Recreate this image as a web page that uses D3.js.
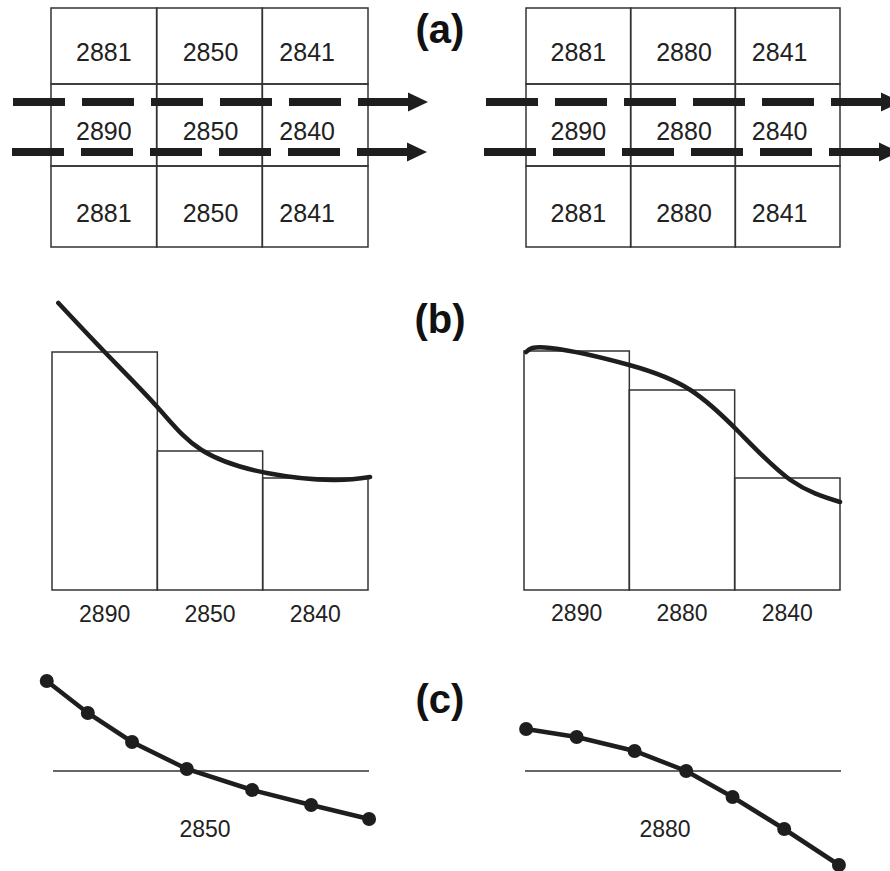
<!DOCTYPE html>
<html>
<head>
<meta charset="utf-8">
<script src="https://cdn.jsdelivr.net/npm/d3@7"></script>
<style>
  body { margin: 0; background: #fff; }
  text { font-family: "Liberation Sans", Arial, sans-serif; fill: #222; }
</style>
</head>
<body>
<div id="chart"></div>
<script>
// (a) cell values, rows top to bottom
var gridLeft = [[2881, 2850, 2841], [2890, 2850, 2840], [2881, 2850, 2841]];
var gridRight = [[2881, 2880, 2841], [2890, 2880, 2840], [2881, 2880, 2841]];

// (b) bars + fitted curve (x in bar units 0..3, y in bar height units)
var barCatsLeft = ["2890", "2850", "2840"];
var barCatsRight = ["2890", "2880", "2840"];
var barHeightsLeft = [238, 139, 112];
var barHeightsRight = [239, 200, 112];
var curveLeft = [[0.06, 287], [0.5, 238], [1.0, 183], [1.42, 140],
                 [2.04, 117], [2.67, 110], [3.02, 113]];
var curveRight = [[0.02, 238], [0.25, 242], [1.0, 225], [1.58, 200],
                  [2.04, 158], [2.53, 110], [3.0, 88]];

// (c) profile points around the centre line
var profileLeft = [[-0.05, 90], [0.34, 58], [0.76, 29], [1.28, 2], [1.90, -19], [2.46, -34], [3.01, -48]];
var profileRight = [[0.02, 42], [0.50, 34], [1.05, 20], [1.54, 0], [1.98, -26], [2.47, -58], [2.99, -94]];
var profileLabels = ["2850", "2880"];

var panelLabels = ["(a)", "(b)", "(c)"];

var W = 890, H = 871;
var svg = d3.select("#chart").append("svg")
    .attr("width", W)
    .attr("height", H);

var ink = "#1e1e1e";
var thin = "#333";

// panel labels
var labelY = [43, 333, 713];
svg.selectAll("text.panel").data(panelLabels)
    .enter().append("text")
    .attr("class", "panel")
    .attr("x", 440)
    .attr("y", function (d, i) { return labelY[i]; })
    .attr("text-anchor", "middle")
    .attr("font-size", 40)
    .attr("font-weight", "bold")
    .style("fill", "#111")
    .text(function (d) { return d; });

// ---------- (a) grids ----------
var rowEdges = [8, 84, 166, 247];
var colNudge = [0, 1, -8];

function drawGrid(x0, x1, cells, arrowStarts) {
    var g = svg.append("g");
    var x = d3.scaleBand().domain([0, 1, 2]).range([x0, x1]);

    cells.forEach(function (row, r) {
        row.forEach(function (v, c) {
            g.append("rect")
                .attr("x", x(c))
                .attr("y", rowEdges[r])
                .attr("width", x.bandwidth())
                .attr("height", rowEdges[r + 1] - rowEdges[r])
                .attr("fill", "none")
                .attr("stroke", thin)
                .attr("stroke-width", 1.5);
            g.append("text")
                .attr("x", x(c) + x.bandwidth() / 2 + colNudge[c])
                .attr("y", (rowEdges[r] + rowEdges[r + 1]) / 2 + 15)
                .attr("text-anchor", "middle")
                .attr("font-size", 25)
                .text(v);
        });
    });

    // dashed flow arrows
    var arrowY = [102, 152];
    arrowY.forEach(function (y, i) {
        var sx = arrowStarts[i];
        var ex = sx + 397;
        g.append("line")
            .attr("x1", sx).attr("x2", ex)
            .attr("y1", y).attr("y2", y)
            .attr("stroke", ink)
            .attr("stroke-width", 8)
            .attr("stroke-dasharray", "52,17");
        g.append("path")
            .attr("d", "M" + (ex - 2) + "," + (y - 9.5) + "L" + (ex + 18) + "," + y + "L" + (ex - 2) + "," + (y + 9.5) + "Z")
            .attr("fill", ink);
    });
}

drawGrid(51, 368, gridLeft, [13, 12]);
drawGrid(526, 840, gridRight, [486, 484]);

// ---------- (b) bars ----------
var yb = d3.scaleLinear().domain([0, 250]).range([590, 340]);

function drawBars(x0, x1, cats, heights, curve, labelBase) {
    var g = svg.append("g");
    var xb = d3.scaleBand().domain(cats).range([x0, x1]);
    var xc = d3.scaleLinear().domain([0, 3]).range([x0, x1]);

    g.selectAll("rect").data(cats)
        .enter().append("rect")
        .attr("x", function (d) { return xb(d); })
        .attr("y", function (d, i) { return yb(heights[i]); })
        .attr("width", xb.bandwidth())
        .attr("height", function (d, i) { return yb(0) - yb(heights[i]); })
        .attr("fill", "none")
        .attr("stroke", thin)
        .attr("stroke-width", 1.5);

    g.selectAll("text").data(cats)
        .enter().append("text")
        .attr("x", function (d) { return xb(d) + xb.bandwidth() / 2; })
        .attr("y", labelBase)
        .attr("text-anchor", "middle")
        .attr("font-size", 23)
        .text(function (d) { return d; });

    var line = d3.line()
        .x(function (d) { return xc(d[0]); })
        .y(function (d) { return yb(d[1]); })
        .curve(d3.curveNatural);

    g.append("path")
        .datum(curve)
        .attr("d", line)
        .attr("fill", "none")
        .attr("stroke", ink)
        .attr("stroke-width", 4.5)
        .attr("stroke-linecap", "round");
}

drawBars(52, 368, barCatsLeft, barHeightsLeft, curveLeft, 622);
drawBars(524, 840, barCatsRight, barHeightsRight, curveRight, 621);

// ---------- (c) profiles ----------
var yc = d3.scaleLinear().domain([-100, 100]).range([871, 671]);

function drawProfile(x0, x1, pts, label, labelShift) {
    var g = svg.append("g");
    var xc = d3.scaleLinear().domain([0, 3]).range([x0, x1]);

    g.append("line")
        .attr("x1", xc(0) + 1).attr("x2", xc(3) + 1)
        .attr("y1", yc(0)).attr("y2", yc(0))
        .attr("stroke", thin)
        .attr("stroke-width", 1.5);

    var line = d3.line()
        .x(function (d) { return xc(d[0]); })
        .y(function (d) { return yc(d[1]); });

    g.append("path")
        .datum(pts)
        .attr("d", line)
        .attr("fill", "none")
        .attr("stroke", ink)
        .attr("stroke-width", 4.5);

    g.selectAll("circle").data(pts)
        .enter().append("circle")
        .attr("cx", function (d) { return xc(d[0]); })
        .attr("cy", function (d) { return yc(d[1]); })
        .attr("r", 7)
        .attr("fill", ink);

    g.append("text")
        .attr("x", (xc(0) + xc(3)) / 2 + labelShift)
        .attr("y", 837)
        .attr("text-anchor", "middle")
        .attr("font-size", 23)
        .text(label);
}

drawProfile(52, 368, profileLeft, profileLabels[0], -5);
drawProfile(524, 840, profileRight, profileLabels[1], -17);
</script>
</body>
</html>
